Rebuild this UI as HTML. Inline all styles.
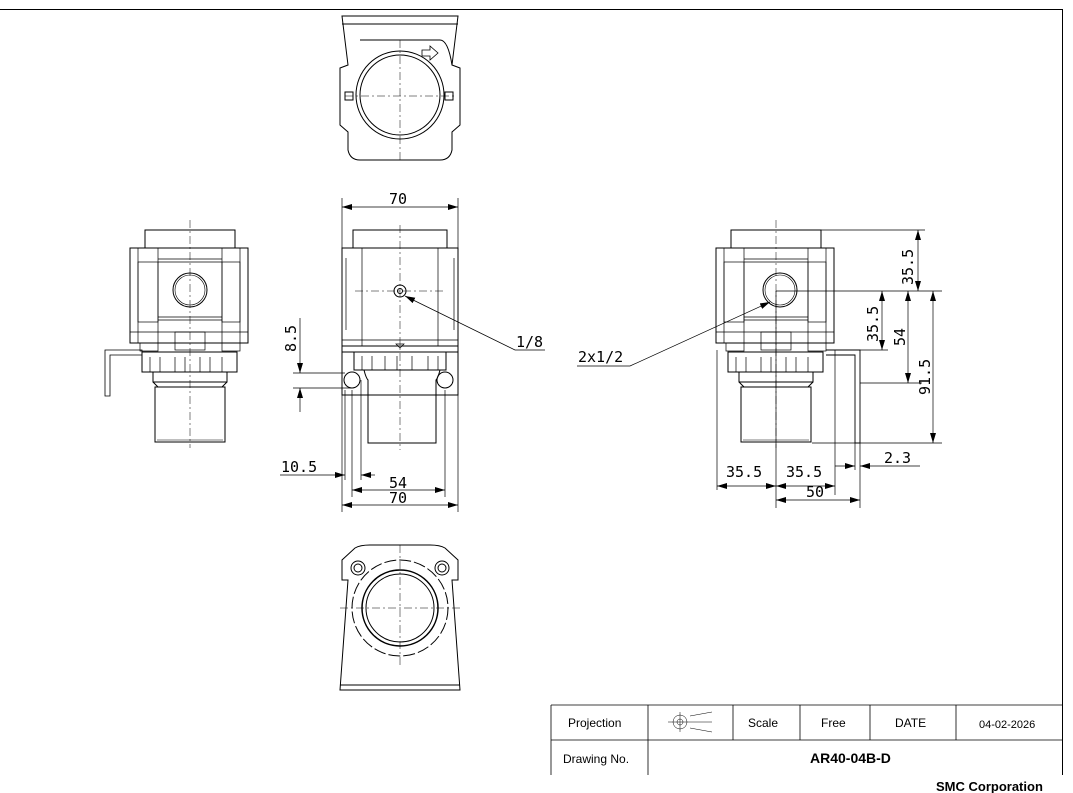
<!DOCTYPE html>
<html><head><meta charset="utf-8"><style>
html,body{margin:0;padding:0;background:#fff;}
svg{display:block;}
text{font-family:"DejaVu Sans Mono","Liberation Mono",monospace;fill:#000;}
.t{font-family:"Liberation Sans",sans-serif;}
</style></head><body>
<svg width="1073" height="793" viewBox="0 0 1073 793" xmlns="http://www.w3.org/2000/svg">
<defs>
<marker id="a" viewBox="0 0 10 6" refX="10" refY="3" markerWidth="10" markerHeight="6" orient="auto-start-reverse" markerUnits="userSpaceOnUse"><path d="M0,0L10,3L0,6z" fill="#000"/></marker>
<g id="side">
<rect x="-45" y="-60" width="90" height="18" fill="none" stroke="#000"/>
<rect x="-60" y="-42" width="118" height="95" fill="none" stroke="#000"/>
<line x1="-52" y1="-42" x2="-52" y2="53" stroke="#000" stroke-width=".7"/>
<line x1="50" y1="-42" x2="50" y2="53" stroke="#000" stroke-width=".7"/>
<rect x="-52" y="-28" width="20" height="60" fill="none" stroke="#000" stroke-width=".7"/>
<rect x="32" y="-28" width="18" height="60" fill="none" stroke="#000" stroke-width=".7"/>
<line x1="-32" y1="-42" x2="-32" y2="53" stroke="#000" stroke-width=".7"/>
<line x1="32" y1="-42" x2="32" y2="53" stroke="#000" stroke-width=".7"/>
<line x1="-32" y1="-31" x2="32" y2="-31" stroke="#000" stroke-width=".7"/>
<line x1="-32" y1="-28" x2="32" y2="-28" stroke="#000" stroke-width=".7"/>
<line x1="-32" y1="27" x2="32" y2="27" stroke="#000" stroke-width=".7"/>
<line x1="-32" y1="30" x2="32" y2="30" stroke="#000" stroke-width=".7"/>
<line x1="-60" y1="42" x2="58" y2="42" stroke="#000" stroke-width=".7"/>
<rect x="-15" y="42" width="30" height="18" fill="none" stroke="#000" stroke-width=".7"/>
<rect x="-50" y="53" width="18" height="8" fill="none" stroke="#000" stroke-width=".7"/>
<rect x="32" y="53" width="18" height="8" fill="none" stroke="#000" stroke-width=".7"/>
<rect x="-48" y="62" width="95" height="20" fill="none" stroke="#000"/>
<path d="M-40,67v15M-30,67v15M-15,67v15M-5,67v15M10,67v15M20,67v15M32,67v15" stroke="#000" stroke-width=".7"/>
<path d="M-37,82v10h74v-10M-37,92l5,5h64l5,-5" fill="none" stroke="#000"/>
<rect x="-35" y="97" width="70" height="55" fill="none" stroke="#000"/>
<line x1="-33" y1="150" x2="33" y2="150" stroke="#000" stroke-width=".6"/>
<line x1="0" y1="-70" x2="0" y2="158" stroke="#000" stroke-width=".5" stroke-dasharray="8,3,2,3"/>
</g>
</defs>
<g fill="none" stroke="#000">
<path d="M0,9.5H1062.5V775" stroke-width="1"/>

<!-- top view -->
<path d="M342,16H458L452,65L460,68V125L452,132V150Q450,160 440,160H360Q350,160 348,150V132L340,125V68L348,65Z"/>
<path d="M342,24H458"/>
<path d="M360,40H440Q448,40 452,65"/>
<circle cx="400" cy="95" r="44"/><circle cx="400" cy="95" r="40"/>
<rect x="345" y="92" width="8" height="8"/><rect x="445" y="92" width="8" height="8"/>
<path d="M422,50h8v-4l8,7-8,7v-4h-8z" stroke-width=".8"/>
<path d="M345,96H455M400,40V160" stroke-width=".5" stroke-dasharray="8,3,2,3"/>

<!-- bottom view -->
<path d="M340,690L348,580H342V560L355,548Q360,545 370,545H430Q440,545 445,548L458,560V580H452L460,690Z"/>
<path d="M340,685H460"/>
<circle cx="400" cy="608" r="48" stroke-dasharray="12,3"/>
<circle cx="400" cy="608" r="38" stroke-width="1.5"/><circle cx="400" cy="608" r="34"/>
<circle cx="358" cy="568" r="7"/><circle cx="358" cy="568" r="4"/>
<circle cx="442" cy="568" r="7"/><circle cx="442" cy="568" r="4"/>
<path d="M340,608H460M400,545V665" stroke-width=".5" stroke-dasharray="8,3,2,3"/>

<!-- front view -->
<rect x="353" y="230" width="94" height="18"/>
<rect x="342" y="248" width="116" height="98"/>
<path d="M362,248V346M438,248V346M346,258V330M454,258V330M342,340H458" stroke-width=".7"/>
<path d="M342,346V395H458V346M342,352H458" />
<rect x="354" y="352" width="92" height="18"/>
<path d="M362,356v14M372,356v14M385,356v14M397,356v14M412,356v14M428,356v14M438,356v14" stroke-width=".7"/>
<path d="M364,370Q366,378 368,380V443H436V380Q438,378 440,370"/>
<circle cx="352" cy="380" r="8"/><circle cx="445" cy="380" r="8"/>
<circle cx="400" cy="291" r="6"/><circle cx="400" cy="291" r="2.5"/>
<path d="M355,291H445M400,225V450" stroke-width=".5" stroke-dasharray="8,3,2,3"/>
<path d="M396,344h8l-4,4z" stroke-width=".7"/>

<!-- dims front -->
<path d="M342,198V248M458,198V248" stroke-width=".7"/>
<path d="M342,207H458" stroke-width=".7" marker-start="url(#a)" marker-end="url(#a)"/>
<path d="M342,395V512M458,395V512" stroke-width=".7"/>
<path d="M342,505H458" stroke-width=".7" marker-start="url(#a)" marker-end="url(#a)"/>
<path d="M352,390V497M445,390V497" stroke-width=".7"/>
<path d="M352,490H445" stroke-width=".7" marker-start="url(#a)" marker-end="url(#a)"/>
<path d="M345,390V480M361,380V480" stroke-width=".7"/>
<path d="M280,475H345" stroke-width=".7" marker-end="url(#a)"/>
<path d="M375,475H361" stroke-width=".7" marker-end="url(#a)"/>
<path d="M293,373H345M293,388H352" stroke-width=".7"/>
<path d="M300,318V373" stroke-width=".7" marker-end="url(#a)"/>
<path d="M300,412V388" stroke-width=".7" marker-end="url(#a)"/>
<path d="M545,350H515L405,296" stroke-width=".7" marker-end="url(#a)"/>

<!-- bracket left -->
<path d="M105,396V350H142V355H110V396Z" stroke-width=".8"/>
</g>
<use href="#side" x="190" y="290"/>
<circle cx="190" cy="290" r="17" fill="none" stroke="#000"/><circle cx="190" cy="290" r="15" fill="none" stroke="#000" stroke-width=".6"/>
<use href="#side" x="776" y="290"/>
<circle cx="780" cy="290" r="17" fill="none" stroke="#000"/><circle cx="780" cy="290" r="15" fill="none" stroke="#000" stroke-width=".6"/>
<g fill="none" stroke="#000" stroke-width=".7">
<path d="M826,350H860V443H855V355H826" stroke-width=".9"/>
<path d="M776,291H942M820,230H925M830,350H888M860,383H922M812,443H942"/>
<path d="M918,230V291" marker-start="url(#a)" marker-end="url(#a)"/>
<path d="M882,291V350" marker-start="url(#a)" marker-end="url(#a)"/>
<path d="M908,291V383" marker-start="url(#a)" marker-end="url(#a)"/>
<path d="M933,291V443" marker-start="url(#a)" marker-end="url(#a)"/>
<path d="M776,291V508M717,350V490M835,350V495M855,443V470M860,443V508"/>
<path d="M717,486H776" marker-start="url(#a)" marker-end="url(#a)"/>
<path d="M776,486H835" marker-start="url(#a)" marker-end="url(#a)"/>
<path d="M776,500H860" marker-start="url(#a)" marker-end="url(#a)"/>
<path d="M835,466H855" marker-end="url(#a)"/>
<path d="M920,466H860" marker-end="url(#a)"/>
<path d="M577,366H630L770,302" marker-end="url(#a)"/>
</g>
<g font-size="15">
<text x="389" y="204">70</text>
<text x="389" y="488">54</text>
<text x="389" y="503">70</text>
<text x="281" y="472">10.5</text>
<text x="516" y="347">1/8</text>
<text x="578" y="362">2x1/2</text>
<text x="726" y="477">35.5</text>
<text x="786" y="477">35.5</text>
<text x="806" y="497">50</text>
<text x="884" y="463">2.3</text>
<text transform="translate(296,352) rotate(-90)">8.5</text>
<text transform="translate(913,285) rotate(-90)">35.5</text>
<text transform="translate(878,342) rotate(-90)">35.5</text>
<text transform="translate(905,346) rotate(-90)">54</text>
<text transform="translate(930,395) rotate(-90)">91.5</text>
</g>
<!-- title block -->
<g fill="none" stroke="#000" stroke-width=".8">
<path d="M551,705H1062M551,740H1062M551,705V775M648,705V775M733,705V740M800,705V740M870,705V740M956,705V740"/>
<circle cx="680" cy="722" r="7" stroke-width=".5"/><circle cx="680" cy="722" r="3" stroke-width=".5"/>
<path d="M668,722H712M680,712V732M690,716L712,712M690,728L712,732" stroke-width=".5"/>
</g>
<g class="t" font-size="12">
<text class="t" x="568" y="727">Projection</text>
<text class="t" x="748" y="727">Scale</text>
<text class="t" x="821" y="727">Free</text>
<text class="t" x="895" y="727">DATE</text>
<text class="t" x="979" y="728" font-size="11">04-02-2026</text>
<text class="t" x="563" y="763">Drawing No.</text>
<text class="t" x="810" y="763" font-size="14" font-weight="bold">AR40-04B-D</text>
<text class="t" x="936" y="791" font-size="13" font-weight="bold">SMC Corporation</text>
</g>
</svg>
</body></html>
